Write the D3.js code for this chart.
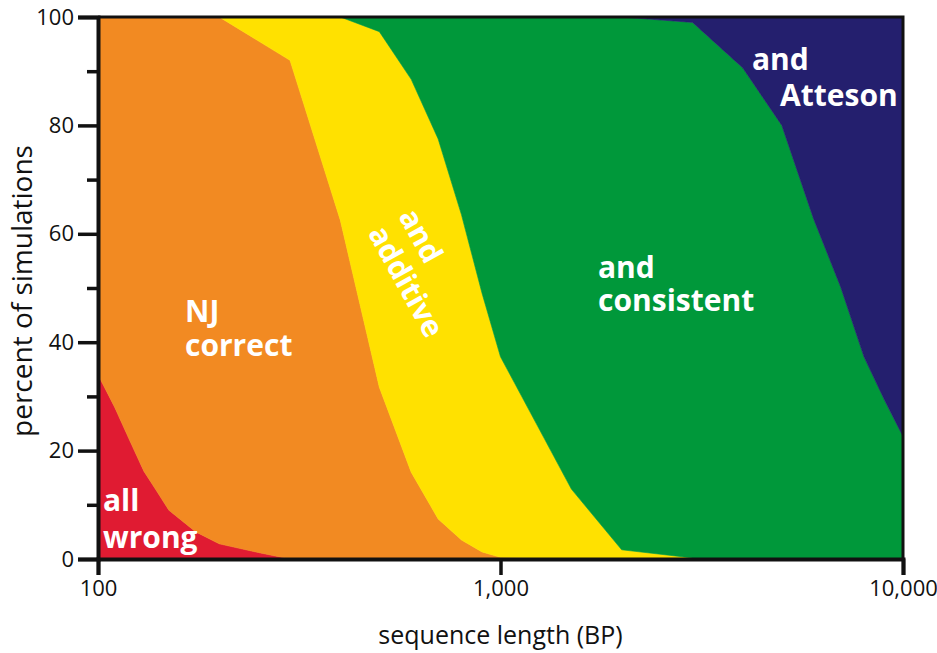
<!DOCTYPE html>
<html>
<head>
<meta charset="utf-8">
<script src="https://cdn.jsdelivr.net/npm/d3@7"></script>
<style>
  body { margin: 0; background: #fff; }
  text { font-family: "Open Sans", "Noto Sans", sans-serif; }
</style>
</head>
<body>
<script>
// sequence lengths sampled (BP)
const lengths = [100, 110, 120, 130, 140, 150, 175, 200, 250, 300, 400, 500, 600, 700, 800, 900, 1000, 1500, 2000, 3000, 4000, 5000, 6000, 7000, 8000, 9000, 10000];

// percent of simulations in each outcome band
const allWrong   = [34, 28, 21.8, 16.2, 12.5, 9, 5, 2.8, 1.2, 0, 0, 0, 0, 0, 0, 0, 0, 0, 0, 0, 0, 0, 0, 0, 0, 0, 0];
const njCorrect  = [66, 72, 78.2, 83.8, 87.5, 91, 95, 97.2, 94.4, 92, 62.5, 31.7, 16, 7.4, 3.5, 1.3, 0.3, 0, 0, 0, 0, 0, 0, 0, 0, 0, 0];
const additive   = [0, 0, 0, 0, 0, 0, 0, 0, 4.4, 8, 37.5, 65.6, 72.5, 70.1, 60, 47.7, 37, 12.9, 1.7, 0.2, 0, 0, 0, 0, 0, 0, 0];
const consistent = [0, 0, 0, 0, 0, 0, 0, 0, 0, 0, 0, 2.7, 11.5, 22.5, 36.5, 51, 62.7, 87.1, 98.3, 98.8, 90.6, 80, 62.7, 50.2, 37.3, 29.3, 22.6];
const atteson    = [0, 0, 0, 0, 0, 0, 0, 0, 0, 0, 0, 0, 0, 0, 0, 0, 0, 0, 0, 1, 9.4, 20, 37.3, 49.8, 62.7, 70.7, 77.4];

const bandKeys = ["allWrong", "njCorrect", "additive", "consistent", "atteson"];
const bandColors = ["#e01b32", "#f28a22", "#ffe100", "#00983a", "#241f6e"];

const yTicks = [0, 20, 40, 60, 80, 100];
const yMinorTicks = [10, 30, 50, 70, 90];
const xTicks = [100, 1000, 10000];

// build rows for the stack
const table = lengths.map((len, i) => ({
    len: len,
    allWrong: allWrong[i],
    njCorrect: njCorrect[i],
    additive: additive[i],
    consistent: consistent[i],
    atteson: atteson[i]
}));

const outerWidth = 937;
const outerHeight = 653;
const margin = {top: 17, right: 34, bottom: 94, left: 98};
const width = outerWidth - margin.left - margin.right;
const height = outerHeight - margin.top - margin.bottom;

const svg = d3.select("body").append("svg")
    .attr("width", outerWidth)
    .attr("height", outerHeight)
    .append("g")
    .attr("transform", `translate(${margin.left},${margin.top})`);

const xScale = d3.scaleLog()
    .domain([100, 10000])
    .range([0, width]);

const yScale = d3.scaleLinear()
    .domain([0, 100])
    .range([height, 0]);

const stacked = d3.stack().keys(bandKeys)(table);

const area = d3.area()
    .x(d => xScale(d.data.len))
    .y0(d => yScale(d[0]))
    .y1(d => yScale(d[1]));

svg.selectAll("path.band")
    .data(stacked)
    .join("path")
    .attr("class", "band")
    .attr("fill", (d, i) => bandColors[i])
    .attr("stroke", (d, i) => bandColors[i])
    .attr("stroke-width", 0.6)
    .attr("d", area);

// top and right frame
svg.append("path")
    .attr("d", `M0,0H${width}V${height}`)
    .attr("fill", "none")
    .attr("stroke", "#111")
    .attr("stroke-width", 3);

// band labels, two lines each (one text element with tspans)
const labelStyle = sel => sel
    .attr("fill", "#fff")
    .attr("font-weight", 700)
    .attr("font-size", 30);

const lab = (parent, x, y, l1, l2, dx2, dy2) => {
    const t = parent.append("text").attr("x", x).attr("y", y).call(labelStyle);
    t.append("tspan").attr("x", x).text(l1);
    t.append("tspan").attr("x", x + dx2).attr("dy", dy2).text(l2);
};
lab(svg, 5, 494, "all", "wrong", 0, 37);
lab(svg, 87, 305, "NJ", "correct", 0, 34);
lab(svg, 500, 261, "and", "consistent", 0, 33);
lab(svg, 654, 53, "and", "Atteson", 28, 36);

const rot = svg.append("g").attr("transform", "translate(300,199) rotate(61)");
lab(rot, 0, 0, "and", "additive", 0, 35);

// axes
const yMinor = svg.append("g")
    .call(d3.axisLeft(yScale).tickValues(yMinorTicks).tickSize(11).tickFormat(""));
const yMajor = svg.append("g")
    .call(d3.axisLeft(yScale).tickValues(yTicks).tickSize(20).tickPadding(4));
const xAxis = svg.append("g")
    .attr("transform", `translate(0,${height})`)
    .call(d3.axisBottom(xScale).tickValues(xTicks).tickSize(16).tickPadding(5).tickFormat(d3.format(",")));

[yMinor, yMajor, xAxis].forEach(g => {
    g.select(".domain").attr("stroke", "#111").attr("stroke-width", 4);
    g.selectAll(".tick line").attr("stroke", "#111").attr("stroke-width", 3.5);
    g.selectAll(".tick text")
        .attr("fill", "#111")
        .attr("font-size", 22)
        .style("font-family", "'Open Sans', sans-serif");
});
yMinor.select(".domain").remove();

// axis titles
svg.append("text")
    .attr("x", width / 2)
    .attr("y", height + 85)
    .attr("text-anchor", "middle")
    .attr("font-size", 25)
    .attr("fill", "#111")
    .text("sequence length (BP)");

svg.append("text")
    .attr("transform", `translate(${-66},${height / 2 + 3}) rotate(-90)`)
    .attr("text-anchor", "middle")
    .attr("font-size", 28)
    .attr("fill", "#111")
    .text("percent of simulations");
</script>
</body>
</html>
